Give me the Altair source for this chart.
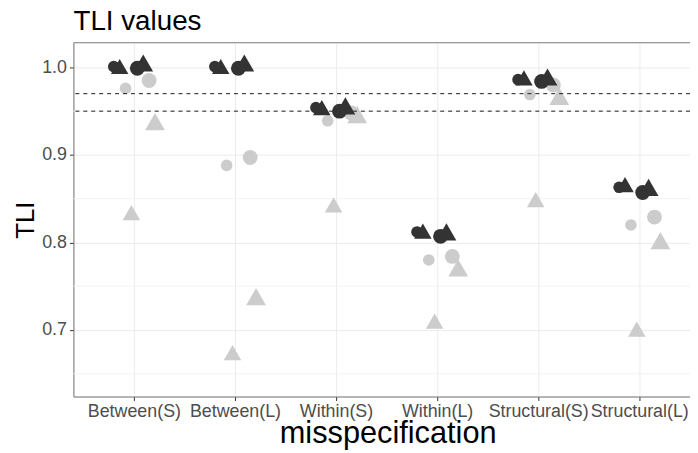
import altair as alt
import pandas as pd

categories = ["Between(S)", "Between(L)", "Within(S)", "Within(L)", "Structural(S)", "Structural(L)"]

# dark series
dark_small_circle = [1.001, 1.001, 0.954, 0.812, 0.986, 0.863]
dark_small_triangle = [1.001, 1.001, 0.954, 0.813, 0.988, 0.866]
dark_large_circle = [0.999, 0.999, 0.950, 0.807, 0.984, 0.857]
dark_large_triangle = [1.005, 1.005, 0.956, 0.812, 0.989, 0.863]
# grey series
grey_small_circle = [0.976, 0.888, 0.939, 0.780, 0.969, 0.820]
grey_small_triangle = [0.834, 0.674, 0.843, 0.710, 0.849, 0.701]
grey_large_circle = [0.985, 0.897, 0.948, 0.784, 0.980, 0.829]
grey_large_triangle = [0.938, 0.738, 0.946, 0.771, 0.967, 0.802]

cutoffs = [0.95, 0.97]
minor_grid = [0.65, 0.75, 0.85, 0.95]
major_ticks = [0.7, 0.8, 0.9, 1.0]

series = [
    ("dark", "small", "circle", dark_small_circle),
    ("dark", "small", "triangle-up", dark_small_triangle),
    ("grey", "small", "circle", grey_small_circle),
    ("grey", "small", "triangle-up", grey_small_triangle),
    ("dark", "large", "circle", dark_large_circle),
    ("dark", "large", "triangle-up", dark_large_triangle),
    ("grey", "large", "circle", grey_large_circle),
    ("grey", "large", "triangle-up", grey_large_triangle),
]
grp_order = [f"{c}-{n}-{s}" for c, n, s, _ in series]

rows = []
for c, n, s, vals in series:
    for cat, v in zip(categories, vals):
        rows.append({"misspecification": cat, "TLI": v, "col": c, "N": n,
                     "shp": s, "kind": f"{n} {s}", "grp": f"{c}-{n}-{s}"})
df = pd.DataFrame(rows)

W, H = 622, 357
FONT = "Liberation Sans"

xenc = alt.X("misspecification:N", sort=categories,
             scale=alt.Scale(domain=categories, paddingInner=0.592, paddingOuter=0.3462,
                             align=0.5765, round=False),
             axis=alt.Axis(title="misspecification", labelAngle=0, labelFontSize=18,
                           labelColor="#4D4D4D", titleFontSize=31, titleColor="black",
                           titleFontWeight="normal", titleX=317, titleY=46,
                           titleBaseline="alphabetic", titleAlign="center", labelPadding=2,
                           tickColor="#333333", tickSize=4, domainColor="#7A7A7A",
                           gridColor="#EBEBEB", grid=True, labelOverlap=False))
yscale = alt.Scale(domain=[0.6239, 1.0283], nice=False, zero=False)
yenc = alt.Y("TLI:Q", scale=yscale,
             axis=alt.Axis(title="TLI", values=major_ticks, format=".1f", labelFontSize=18,
                           labelColor="#4D4D4D", titleFontSize=26, titleColor="black",
                           titleFontWeight="normal", titlePadding=3, tickColor="#333333",
                           tickSize=4, labelPadding=3, domainColor="#7A7A7A",
                           gridColor="#EBEBEB", grid=True))

common = dict(
    x=xenc,
    y=yenc,
    xOffset=alt.XOffset("grp:N", scale=alt.Scale(domain=grp_order, paddingInner=0, paddingOuter=0)),
    color=alt.Color("col:N", scale=alt.Scale(domain=["dark", "grey"], range=["#333333", "#CCCCCC"]), legend=None),
    shape=alt.Shape("shp:N", scale=alt.Scale(domain=["circle", "triangle-up"], range=["circle", "triangle-up"]), legend=None),
    size=alt.Size("kind:N", scale=alt.Scale(domain=["small circle", "large circle", "small triangle-up", "large triangle-up"],
                                            range=[137, 400, 280, 760]), legend=None),
)

minor = alt.Chart(pd.DataFrame({"v": minor_grid})).mark_rule(color="#F2F2F2", strokeWidth=1).encode(
    y=alt.Y("v:Q", scale=yscale))

grey_pts = alt.Chart(df[df["col"] == "grey"]).mark_point(filled=True, opacity=1, strokeWidth=0).encode(**common)
dark_pts = alt.Chart(df[df["col"] == "dark"]).mark_point(filled=True, opacity=1, strokeWidth=0).encode(**common)

hl = alt.Chart(pd.DataFrame({"v": cutoffs})).mark_rule(color="#1A1A1A", strokeWidth=1, strokeDash=[4, 4]).encode(
    y=alt.Y("v:Q", scale=yscale))

top = alt.Chart(pd.DataFrame({"a": [0]})).mark_rule(color="#8C8C8C", strokeWidth=1).encode(
    x=alt.value(0), x2=alt.value(W), y=alt.value(0))

chart = alt.layer(minor, grey_pts, hl, dark_pts, top).properties(
    width=W, height=H,
    title=alt.TitleParams("TLI values", anchor="start", frame="group", fontSize=28,
                          fontWeight="normal", color="black", font=FONT, offset=6),
    autosize=alt.AutoSizeParams(type="none"),
    padding={"left": 66, "top": 33, "right": 0, "bottom": 54},
).configure_view(stroke=None).configure(font=FONT).configure_axis(labelFont=FONT, titleFont=FONT)

chart.save("out.html", embed_options={"renderer": "svg", "actions": False})
